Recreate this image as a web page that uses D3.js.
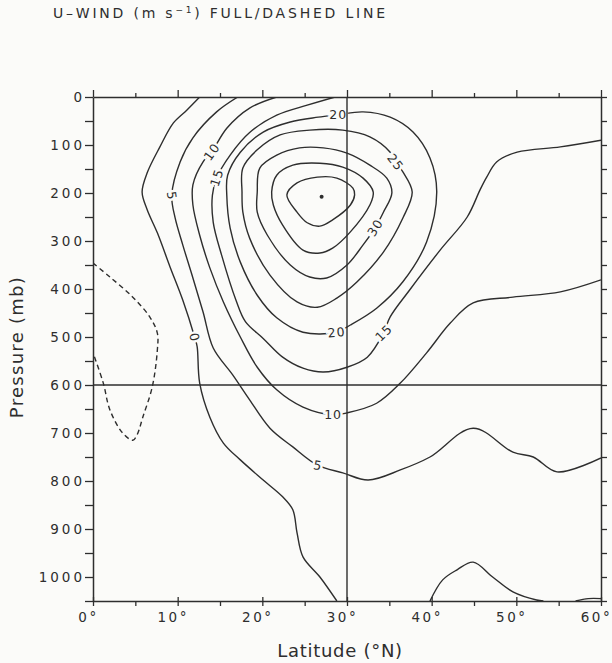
<!DOCTYPE html>
<html>
<head>
<meta charset="utf-8">
<script src="https://cdn.jsdelivr.net/npm/d3@7"></script>
<style>
  html, body { margin: 0; padding: 0; background: #fbfbf9; }
  svg { display: block; }
  text { font-family: "DejaVu Sans", sans-serif; fill: #2e2e2e; }
</style>
</head>
<body>
<svg id="chart" width="612" height="663"></svg>
<script>
// ---- axis values ----
const latTicks = d3.range(0, 61, 5);
const latLabels = [0, 10, 20, 30, 40, 50, 60];
const pTicks = d3.range(0, 1051, 50);
const pLabels = d3.range(0, 1001, 100);
const refLat = [30];   // reference meridian
const refP = [600];    // reference level

// ---- zonal wind contours, [latitude °N, pressure mb] ----
const u40 = [[22.9,204],[24.1,179],[26.5,167],[28.8,169],[30.7,190],[30.9,204],[30.4,225],[28.3,256],[26.8,269],[25.3,262],[24.1,240]];
const u35 = [[21.1,198],[21.7,163],[23.6,142],[26.8,138],[29.5,146],[31.9,169],[33.1,198],[32.7,225],[30.4,281],[28.3,315],[26.8,325],[24.8,319],[22.4,267],[21.3,225]];
const u30 = [[19.4,198],[19.7,148],[21.7,121],[24.4,106],[27.2,106],[30.0,117],[32.7,142],[34.7,169],[35.3,200],[34.3,240],[33.3,273],[31.9,308],[30.0,350],[27.6,377],[25.6,375],[23.3,350],[20.6,288],[19.4,240]];
const u25 = [[17.6,198],[17.7,148],[19.4,110],[22.1,79],[25.6,69],[29.5,69],[32.7,83],[35.1,115],[35.7,135],[36.6,156],[37.7,198],[36.6,252],[34.3,323],[31.2,385],[28.8,419],[26.5,438],[24.1,427],[20.9,371],[18.5,294],[17.7,240]];
const u20 = [[28.9,37],[31.9,31],[35.1,42],[37.8,73],[39.8,127],[40.6,198],[39.4,302],[36.6,385],[33.5,440],[30.4,475],[28.7,490],[24.8,490],[21.7,460],[19.4,413],[17.4,344],[16.2,273],[15.8,204],[15.9,163],[17.4,115],[20.1,73],[23.3,52],[26.6,42]];
const u15 = [[28.6,0],[25.3,17],[21.7,38],[18.5,74],[16.2,121],[14.6,169],[14.1,205],[14.2,261],[15.2,330],[16.9,424],[18.0,468],[20.1,503],[22.4,542],[24.8,565],[27.2,573],[30.0,563],[32.4,542],[34.3,492],[35.1,458],[37.4,402],[41.0,319],[44.2,250],[45.7,194],[46.5,167],[47.7,135],[50.1,115],[55.2,104],[60,90]];
const u10 = [[21.7,0],[18.5,23],[15.8,65],[14.0,115],[13.0,135],[11.8,183],[11.8,225],[12.6,288],[13.8,356],[15.4,427],[17.4,500],[19.4,563],[21.7,610],[24.8,646],[28.3,662],[30.0,658],[33.5,638],[36.3,596],[39.4,533],[42.2,471],[44.9,429],[49.6,417],[55.2,406],[60,381]];
const u5 = [[17.1,0],[14.6,31],[11.8,85],[10.3,135],[9.3,205],[9.7,252],[10.6,308],[11.8,377],[13.0,448],[14.2,523],[16.5,579],[18.5,631],[20.9,690],[23.6,729],[26.5,767],[29.5,783],[32.5,798],[36.3,777],[39.8,750],[44.9,690],[49.6,740],[52.0,750],[54.8,781],[60,752]];
const u5Surface = [[39.8,1050],[41.3,1006],[43.0,985],[44.9,969],[47.2,1000],[49.6,1031],[52.4,1048],[53.2,1050]];
const u5SurfaceNorth = [[57.0,1050],[58.5,1045],[60,1045]];
const u0 = [[12.6,0],[11.1,27],[9.5,54],[7.9,104],[6.4,158],[5.8,198],[6.4,235],[7.6,283],[9.1,354],[10.6,423],[12.0,500],[12.3,520],[12.6,596],[13.8,667],[15.4,721],[17.4,756],[20.1,798],[22.4,833],[23.6,860],[24.1,908],[24.8,958],[26.8,1000],[28.8,1050]];
const uNeg5 = [[0,346],[2.0,375],[4.7,417],[6.7,458],[7.6,492],[7.6,527],[7.0,604],[5.9,666],[5.2,704],[4.7,715],[3.5,700],[2.0,652],[1.2,595],[0,533]];
const jetCore = [[27.0,208]];

// table of contour lines built from the arrays above
const contours = [
  { level: 40, pts: u40, closed: true },
  { level: 35, pts: u35, closed: true },
  { level: 30, pts: u30, closed: true },
  { level: 25, pts: u25, closed: true },
  { level: 20, pts: u20, closed: true },
  { level: 15, pts: u15, closed: false },
  { level: 10, pts: u10, closed: false },
  { level: 5,  pts: u5,  closed: false },
  { level: 5,  pts: u5Surface, closed: false },
  { level: 5,  pts: u5SurfaceNorth, closed: false },
  { level: 0,  pts: u0,  closed: false },
  { level: -5, pts: uNeg5, closed: false }
];

// inline contour labels: which level, where along the line, text angle
const labelAnchors = [
  { level: 0,  at: u0[10],  angle: 78 },
  { level: 5,  at: u5[4],   angle: 82 },
  { level: 10, at: u10[3],  angle: -55 },
  { level: 15, at: u15[5],  angle: -72 },
  { level: 20, at: u20[0],  angle: 0 },
  { level: 25, at: u25[8],  angle: 52 },
  { level: 30, at: u30[10], angle: -58 },
  { level: 20, at: u20[10], angle: -5 },
  { level: 15, at: u15[17], angle: -45 },
  { level: 10, at: u10[14], angle: 0 },
  { level: 5,  at: u5[14],  angle: 10 }
];

// ---- drawing ----
const bg = "#fbfbf9";
const ink = "#2e2e2e";
const svg = d3.select("#chart");
svg.append("rect").attr("width", 612).attr("height", 663).attr("fill", bg);

const x = d3.scaleLinear().domain([0, 60]).range([93, 601]);
const y = d3.scaleLinear().domain([0, 1050]).range([97, 601]);

svg.append("defs").append("clipPath").attr("id", "plotArea")
  .append("rect")
  .attr("x", x(0)).attr("y", y(0))
  .attr("width", x(60) - x(0)).attr("height", y(1050) - y(0));

const lineFor = closed => d3.line()
  .x(d => x(d[0])).y(d => y(d[1]))
  .curve(closed ? d3.curveCatmullRomClosed.alpha(0.5) : d3.curveCatmullRom.alpha(0.5));

const gLines = svg.append("g").attr("clip-path", "url(#plotArea)");
gLines.selectAll("path.contour").data(contours).join("path")
  .attr("class", "contour")
  .attr("d", c => lineFor(c.closed)(c.pts))
  .attr("fill", "none")
  .attr("stroke", ink)
  .attr("stroke-width", 1.4)
  .attr("stroke-linejoin", "round")
  .attr("stroke-dasharray", c => c.level < 0 ? "5,3.5" : null);

// jet core marker
gLines.selectAll("circle.core").data(jetCore).join("circle")
  .attr("class", "core")
  .attr("cx", d => x(d[0])).attr("cy", d => y(d[1]))
  .attr("r", 2).attr("fill", ink);

// contour labels with a background halo that breaks the line
svg.append("g").selectAll("text").data(labelAnchors).join("text")
  .attr("transform", d => `translate(${x(d.at[0])},${y(d.at[1])}) rotate(${d.angle})`)
  .attr("text-anchor", "middle")
  .attr("dy", "0.36em")
  .attr("dx", "0.5")
  .style("font-size", "12.5px")
  .style("letter-spacing", "1px")
  .attr("stroke", bg).attr("stroke-width", 5).attr("paint-order", "stroke")
  .text(d => d.level);

// reference lines
const gRef = svg.append("g").attr("stroke", ink).attr("stroke-width", 1.4);
gRef.selectAll("line.lat").data(refLat).join("line")
  .attr("x1", d => x(d)).attr("x2", d => x(d))
  .attr("y1", y(0)).attr("y2", y(1050));
gRef.selectAll("line.p").data(refP).join("line")
  .attr("x1", x(0)).attr("x2", x(60))
  .attr("y1", d => y(d)).attr("y2", d => y(d));

// axes
function styleAxis(g, spacing) {
  g.select(".domain").attr("stroke", ink).attr("stroke-width", 1.5);
  g.selectAll(".tick line").attr("stroke", ink).attr("stroke-width", 1.3);
  g.selectAll(".tick text").attr("fill", ink)
    .style("font-family", "'DejaVu Sans', sans-serif")
    .style("font-size", "13.5px").style("letter-spacing", spacing + "px");
}

const axLeft = svg.append("g").attr("transform", `translate(${x(0)},0)`)
  .call(d3.axisLeft(y).tickValues(pTicks).tickSize(8).tickSizeOuter(0).tickPadding(0)
    .tickFormat(d => pLabels.includes(d) ? String(d) : ""));
styleAxis(axLeft, 3);

const axRight = svg.append("g").attr("transform", `translate(${x(60)},0)`)
  .call(d3.axisRight(y).tickValues(pTicks).tickSize(6).tickSizeOuter(0).tickFormat(""));
styleAxis(axRight, 3);

const axTop = svg.append("g").attr("transform", `translate(0,${y(0)})`)
  .call(d3.axisTop(x).tickValues(latTicks).tickSize(4).tickSizeOuter(0).tickFormat(""));
styleAxis(axTop, 3);
axTop.selectAll(".tick line").filter(d => d % 10 === 0).attr("y2", -7);

const axBottom = svg.append("g").attr("transform", `translate(0,${y(1050)})`)
  .call(d3.axisBottom(x).tickValues(latTicks).tickSize(5).tickSizeOuter(0).tickPadding(6)
    .tickFormat(d => latLabels.includes(d) ? d + "°" : ""));
styleAxis(axBottom, 2.5);
axBottom.selectAll(".tick line").filter(d => d % 10 === 0).attr("y1", -4);
axBottom.selectAll(".tick text").attr("dx", -5);

// stretch a text element to a given width with letter spacing
function fitWidth(sel, width) {
  const node = sel.node();
  const n = node.textContent.length;
  sel.style("letter-spacing", "0px");
  const w0 = node.getComputedTextLength();
  sel.style("letter-spacing", ((width - w0) / (n - 1)) + "px");
}

// title
const title = svg.append("text").attr("x", 53).attr("y", 18).style("font-size", "14px");
title.append("tspan").text("U–WIND (m s");
title.append("tspan").attr("dy", -5).style("font-size", "9px").text("−1");
title.append("tspan").attr("dy", 5).text(") FULL/DASHED LINE");
fitWidth(title, 332);

// axis titles
const xTitle = svg.append("text").attr("x", 340).attr("y", 657)
  .attr("text-anchor", "middle").style("font-size", "18px").text("Latitude (°N)");
fitWidth(xTitle, 125);

const yTitle = svg.append("text")
  .attr("transform", "translate(23,347) rotate(-90)")
  .attr("text-anchor", "middle").style("font-size", "18px").text("Pressure (mb)");
fitWidth(yTitle, 141);
</script>
</body>
</html>
